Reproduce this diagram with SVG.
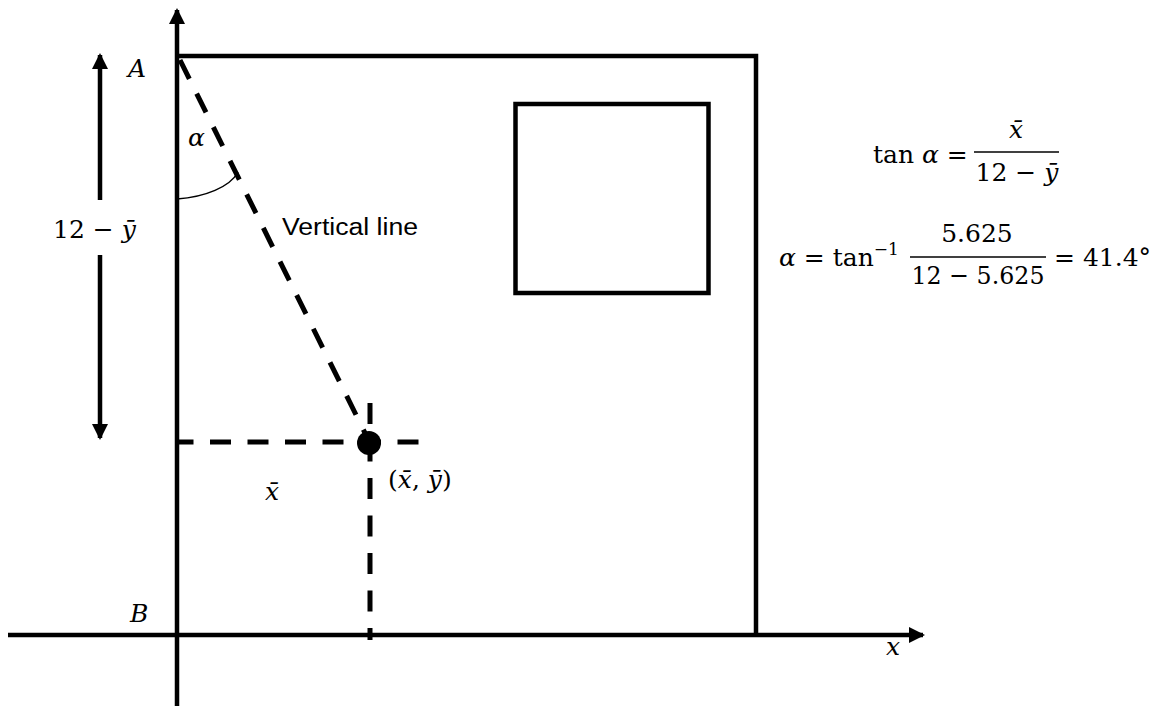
<svg xmlns="http://www.w3.org/2000/svg" width="1159" height="706" viewBox="0 0 1159 706">
<style>
.m{font-family:"DejaVu Serif","Liberation Serif",serif;font-size:25px;fill:#000}
.i{font-style:italic}
.s{font-family:"Liberation Sans",Arial,sans-serif;font-size:23px;fill:#000}
.ln{stroke:#000;stroke-width:4.5;fill:none}
.d{stroke:#000;stroke-width:5;fill:none;stroke-dasharray:21 16.5}
.thin{stroke:#000;stroke-width:1.5;fill:none}
</style>
<defs>
<marker id="ah" viewBox="0 0 16 16" refX="14" refY="8" markerWidth="16" markerHeight="16" markerUnits="userSpaceOnUse" orient="auto">
<path d="M0,0 L16,8 L0,16 Z" fill="#000"/>
</marker>
</defs>
<rect width="1159" height="706" fill="#fff"/>
<g id="connectors">
<line class="ln" x1="177" y1="706" x2="177" y2="10" marker-end="url(#ah)"/>
<line class="ln" x1="8" y1="635" x2="923" y2="635" marker-end="url(#ah)"/>
<line class="ln" x1="100" y1="200" x2="100" y2="55" marker-end="url(#ah)"/>
<line class="ln" x1="100" y1="255" x2="100" y2="438" marker-end="url(#ah)"/>
<line class="d" x1="180" y1="60" x2="369" y2="441"/>
<line class="d" x1="177" y1="442" x2="419" y2="442" stroke-dashoffset="4.5"/>
<line class="d" x1="370" y1="403" x2="370" y2="640"/>
<path class="thin" d="M177,199 C205,197 230,187 238,172"/>
</g>
<g id="outer">
<polyline class="ln" points="177,56 756,56 756,635"/>
</g>
<g id="square">
<rect class="ln" x="515.5" y="104" width="193" height="189"/>
</g>
<g id="centroid">
<circle cx="369" cy="443" r="12" fill="#000"/>
</g>
<g id="labels">
<text class="m i" x="128" y="77">A</text>
<text class="m i" x="188" y="146">α</text>
<text class="m" x="53" y="238">12 − <tspan class="i">ȳ</tspan></text>
<text class="s" x="282" y="235" textLength="136" lengthAdjust="spacingAndGlyphs">Vertical line</text>
<text class="m i" x="265" y="500">x̄</text>
<text class="m" x="388" y="488">(<tspan class="i">x̄</tspan>, <tspan class="i">ȳ</tspan>)</text>
<text class="m i" x="130" y="622">B</text>
<text class="m i" x="886" y="655">x</text>
</g>
<g id="eq1">
<text class="m" x="873" y="163">tan <tspan class="i">α</tspan> =</text>
<text class="m i" x="1016" y="138" text-anchor="middle">x̄</text>
<line class="thin" x1="974" y1="152" x2="1059" y2="152" stroke-width="1.8"/>
<text class="m" x="1017" y="181" text-anchor="middle">12 − <tspan class="i">ȳ</tspan></text>
</g>
<g id="eq2">
<text class="m" x="779" y="266"><tspan class="i">α</tspan> = tan<tspan font-size="17" dy="-11">−1</tspan></text>
<text class="m" x="977" y="242" text-anchor="middle">5.625</text>
<line class="thin" x1="910" y1="257" x2="1046" y2="257" stroke-width="1.8"/>
<text class="m" x="978" y="284" text-anchor="middle" textLength="133" lengthAdjust="spacingAndGlyphs">12 − 5.625</text>
<text class="m" x="1054" y="266">= 41.4°</text>
</g>
</svg>
